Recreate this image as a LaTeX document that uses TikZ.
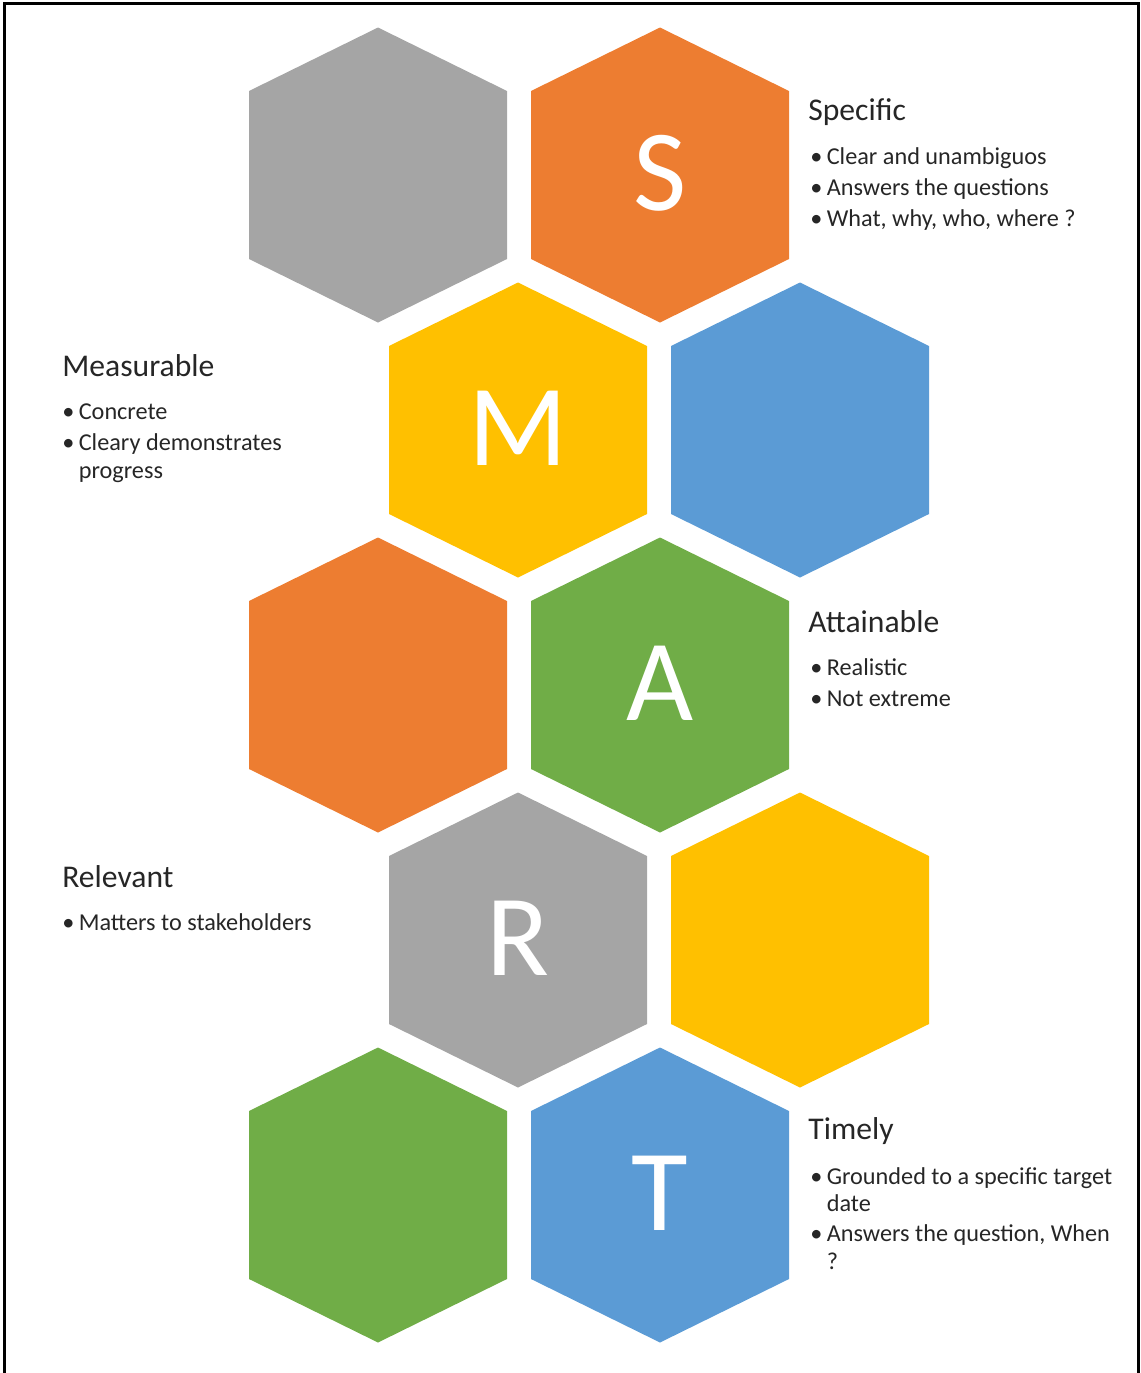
\documentclass[tikz,border=0pt]{standalone}
\usepackage{fontspec}
\setmainfont{Carlito}
\definecolor{hexgray}{HTML}{A5A5A5}
\definecolor{hexorange}{HTML}{ED7D31}
\definecolor{hexyellow}{HTML}{FFC000}
\definecolor{hexblue}{HTML}{5B9BD5}
\definecolor{hexgreen}{HTML}{70AD47}
\definecolor{bodytext}{HTML}{262626}

\begin{document}
\begin{tikzpicture}[x=0.02cm, y=-0.02cm,
  letter/.style={text=white, inner sep=0pt, font=\fontsize{66}{66}\selectfont},
  heading/.style={anchor=base west, inner sep=0pt, text=bodytext, font=\fontsize{18}{21}\selectfont},
  points/.style={anchor=base west, inner sep=0pt, text=bodytext, font=\fontsize{13.8}{15.9}\selectfont}]
  \useasboundingbox (0,0) rectangle (1141,1373);
  % frame, open at the bottom
  \draw[line width=1.6pt] (4.5,1390) -- (4.5,3.7) -- (1138.8,3.7) -- (1138.8,1390);
  % honeycomb: centre x / centre y / colour
  \foreach \cx/\cy/\col in {378/175/hexgray, 660/175/hexorange,
                            518/430/hexyellow, 800/430/hexblue,
                            378/685/hexorange, 660/685/hexgreen,
                            518/940/hexgray, 800/940/hexyellow,
                            378/1195/hexgreen, 660/1195/hexblue}
    \fill[\col] (\cx,\cy) ++(0,-147.5) -- ++(129,63.5) -- ++(0,168)
      -- ++(-129,63.5) -- ++(-129,-63.5) -- ++(0,-168) -- cycle;
  % the letters
  \node[letter] (S) at (660,173) {S};
  \node[letter] (M) at (518,428) {M};
  \node[letter] (A) at (660,683) {A};
  \node[letter] (R) at (518,938) {R};
  \node[letter] (T) at (660,1193) {T};
  % Specific
  \node[heading] (shead) at (808,120) {Specific};
  \node[points] (slist) at (810,164) {\begin{tabular}[t]{@{}l@{\hspace{2.5pt}}l@{}}
    \textbullet & Clear and unambiguos\\[1.9pt]
    \textbullet & Answers the questions\\[1.9pt]
    \textbullet & What, why, who, where ?
  \end{tabular}};
  % Measurable
  \node[heading] (mhead) at (62,376) {Measurable};
  \node[points] (mlist) at (62,419) {\begin{tabular}[t]{@{}l@{\hspace{2.5pt}}l@{}}
    \textbullet & Concrete\\[1.9pt]
    \textbullet & Cleary demonstrates\\
                & progress
  \end{tabular}};
  % Attainable
  \node[heading] (ahead) at (808,632) {Attainable};
  \node[points] (alist) at (810,675) {\begin{tabular}[t]{@{}l@{\hspace{2.5pt}}l@{}}
    \textbullet & Realistic\\[1.9pt]
    \textbullet & Not extreme
  \end{tabular}};
  % Relevant
  \node[heading] (rhead) at (62,887) {Relevant};
  \node[points] (rlist) at (62,930) {\begin{tabular}[t]{@{}l@{\hspace{2.5pt}}l@{}}
    \textbullet & Matters to stakeholders
  \end{tabular}};
  % Timely
  \node[heading] (thead) at (808,1139) {Timely};
  \node[points] (tlist) at (810,1184) {\begin{tabular}[t]{@{}l@{\hspace{2.5pt}}l@{}}
    \textbullet & Grounded to a specific target\\
                & date\\[1.1pt]
    \textbullet & Answers the question, When\\
                & ?
  \end{tabular}};
\end{tikzpicture}
\end{document}
